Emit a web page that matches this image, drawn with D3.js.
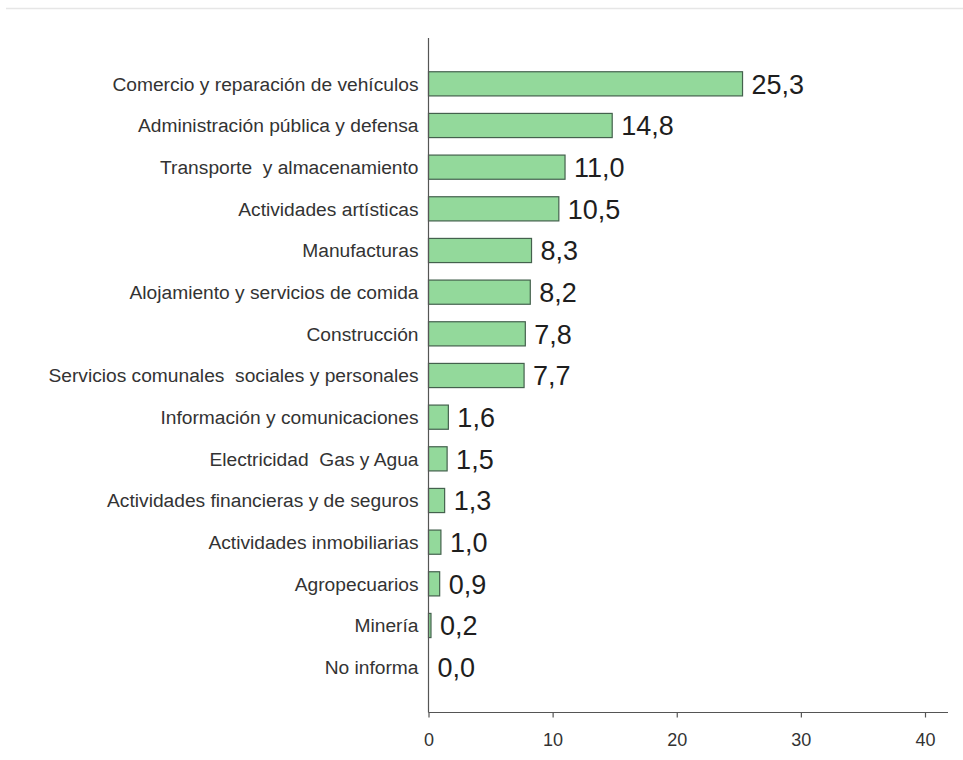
<!DOCTYPE html>
<html>
<head>
<meta charset="utf-8">
<script src="https://cdn.jsdelivr.net/npm/d3@7"></script>
<style>
  html, body { margin: 0; padding: 0; background: #fff; }
  svg { display: block; font-family: "Liberation Sans", Arial, sans-serif; }
  text { white-space: pre; }
</style>
</head>
<body>
<svg id="chart" width="963" height="760"></svg>
<script>
// Employment share by economic sector (%)
const categories = [
  "Comercio y reparación de vehículos",
  "Administración pública y defensa",
  "Transporte  y almacenamiento",
  "Actividades artísticas",
  "Manufacturas",
  "Alojamiento y servicios de comida",
  "Construcción",
  "Servicios comunales  sociales y personales",
  "Información y comunicaciones",
  "Electricidad  Gas y Agua",
  "Actividades financieras y de seguros",
  "Actividades inmobiliarias",
  "Agropecuarios",
  "Minería",
  "No informa"
];
const values = [25.3, 14.8, 11.0, 10.5, 8.3, 8.2, 7.8, 7.7, 1.6, 1.5, 1.3, 1.0, 0.9, 0.2, 0.0];
const xTicks = [0, 10, 20, 30, 40];

const svg = d3.select("#chart");

// faint rule across the top
svg.append("line")
  .attr("x1", 6).attr("x2", 963).attr("y1", 8.5).attr("y2", 8.5)
  .attr("stroke", "#e6e6e6").attr("stroke-width", 1.5);

const x0 = 428.5;
const x = d3.scaleLinear().domain([0, 40]).range([x0, 925]);
const y = d3.scaleBand().domain(categories).range([63, 688])
  .paddingInner(0.42).paddingOuter(0.21);

const axisY = 712.5;

// bars
svg.append("g").selectAll("rect")
  .data(values)
  .join("rect")
  .attr("x", x(0))
  .attr("y", (d, i) => y(categories[i]))
  .attr("width", d => Math.max(0, x(d) - x(0)))
  .attr("height", y.bandwidth())
  .attr("fill", "#93d99b")
  .attr("stroke", "#44614d")
  .attr("stroke-width", 1.2);

// value labels
svg.append("g").selectAll("text")
  .data(values)
  .join("text")
  .attr("x", d => x(d) + 9)
  .attr("y", (d, i) => y(categories[i]) + y.bandwidth() / 2)
  .attr("dy", "0.36em")
  .attr("font-size", 27)
  .attr("fill", "#1e1e1e")
  .text(d => d3.format(".1f")(d).replace(".", ","));

// category labels
svg.append("g").selectAll("text")
  .data(categories)
  .join("text")
  .attr("x", x0 - 10)
  .attr("y", d => y(d) + y.bandwidth() / 2)
  .attr("dy", "0.36em")
  .attr("text-anchor", "end")
  .attr("font-size", 19.2)
  .attr("fill", "#333")
  .text(d => d);

// vertical axis line
svg.append("line")
  .attr("x1", x0).attr("x2", x0).attr("y1", 38).attr("y2", axisY)
  .attr("stroke", "#555").attr("stroke-width", 1.2);

// horizontal axis
const gx = svg.append("g")
  .attr("transform", `translate(0,${axisY})`)
  .call(d3.axisBottom(x).tickValues(xTicks).tickSize(5).tickPadding(16).tickFormat(d3.format("d")));
gx.select(".domain").remove();
gx.selectAll(".tick line").attr("stroke", "#555").attr("stroke-width", 1.2);
gx.selectAll(".tick text").attr("font-size", 18).attr("fill", "#333")
  .attr("font-family", "'Liberation Sans', Arial, sans-serif");
svg.append("line")
  .attr("x1", x0).attr("x2", 948).attr("y1", axisY).attr("y2", axisY)
  .attr("stroke", "#555").attr("stroke-width", 1.2);
</script>
</body>
</html>
